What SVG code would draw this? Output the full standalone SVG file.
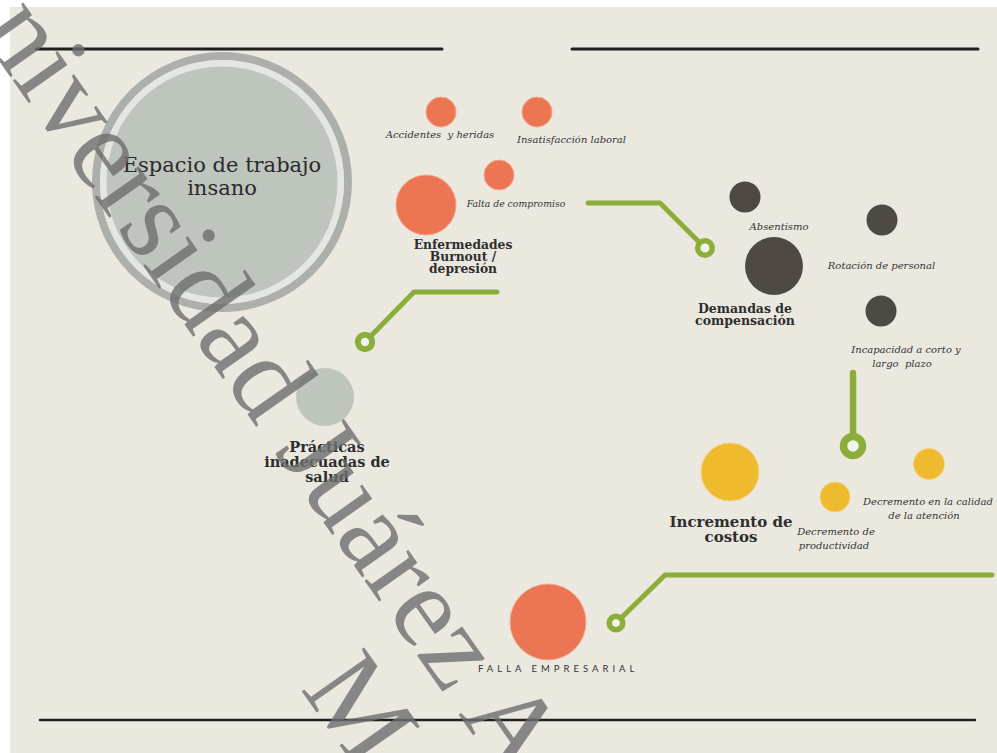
<svg xmlns="http://www.w3.org/2000/svg" width="997" height="753" viewBox="0 0 997 753">
<defs>
<style>
.rule{stroke:#1f1f1d;stroke-width:3;stroke-linecap:round}
.conn{fill:none;stroke:#8bae3a;stroke-width:5;stroke-linecap:round;stroke-linejoin:round}
.ring{fill:#f3f3ee;stroke:#8bae3a}
.or{fill:#ec7554;stroke:#f2a88c;stroke-width:1}
.dk{fill:#4e4944}
.ye{fill:#eebb2f;stroke:#f3d27f;stroke-width:1}
.gr{fill:#bec5bd}
.it{font-family:"DejaVu Serif",serif;font-style:italic;font-size:10px;fill:#333;text-anchor:middle}
.bd{font-family:"DejaVu Serif",serif;font-weight:bold;fill:#2e2e2e;text-anchor:middle}
.wm{font-family:"Liberation Serif",serif;font-size:116.5px;fill:#6e6e6e;opacity:0.8}
</style>
</defs>
<rect x="0" y="0" width="997" height="753" fill="#ffffff"/>
<rect x="10" y="7" width="987" height="746" fill="#ebe8e0"/>
<line class="rule" x1="36" y1="49" x2="442" y2="49"/>
<line class="rule" x1="572" y1="49" x2="978" y2="49"/>
<line class="rule" x1="40" y1="720" x2="975" y2="720" style="stroke-width:2.5"/>

<g id="connectors">
<polyline class="conn" points="497,292 414,292 365,342"/>
<circle class="ring" cx="365" cy="342" r="7.2" stroke-width="6"/>
<polyline class="conn" points="588,203 660,203 705,248"/>
<circle class="ring" cx="705" cy="248" r="7.3" stroke-width="5.5"/>
<polyline class="conn" points="853,373 853,446" style="stroke-width:6.5"/>
<circle class="ring" cx="853" cy="446" r="9.5" stroke-width="7.5"/>
<polyline class="conn" points="616,623 665,575 992,575"/>
<circle class="ring" cx="616" cy="623" r="6.7" stroke-width="5.7"/>
</g>

<g id="espacio">
<circle cx="222" cy="182" r="126" fill="none" stroke="#adb0aa" stroke-width="8"/>
<circle cx="222" cy="182" r="122" fill="#e4e6e0"/>
<circle cx="222" cy="182" r="115.5" fill="#bdc5bd"/>
<text x="222" y="172" style="font-family:'DejaVu Serif',serif;font-size:21px;fill:#2b2b2b;text-anchor:middle">Espacio de trabajo</text>
<text x="222" y="195" style="font-family:'DejaVu Serif',serif;font-size:21px;fill:#2b2b2b;text-anchor:middle">insano</text>
</g>

<g id="accidentes">
<circle class="or" cx="441" cy="112" r="15"/>
<text class="it" x="440" y="138" xml:space="preserve">Accidentes  y heridas</text>
</g>
<g id="insatisfaccion">
<circle class="or" cx="537" cy="112" r="15"/>
<text class="it" x="571.5" y="143">Insatisfacción laboral</text>
</g>
<g id="falta">
<circle class="or" cx="499" cy="175" r="15"/>
<text class="it" x="516" y="207" style="font-size:9.3px">Falta de compromiso</text>
</g>
<g id="enfermedades">
<circle class="or" cx="426" cy="205" r="30"/>
<text class="bd" x="463" y="249" style="font-size:12.3px">Enfermedades</text>
<text class="bd" x="463" y="261" style="font-size:12.3px">Burnout /</text>
<text class="bd" x="463" y="273" style="font-size:12.3px">depresión</text>
</g>

<g id="practicas">
<circle class="gr" cx="325" cy="397" r="29"/>
<text class="bd" x="327" y="452" style="font-size:14.5px">Prácticas</text>
<text class="bd" x="327" y="467" style="font-size:14.5px">inadecuadas de</text>
<text class="bd" x="327" y="482" style="font-size:14.5px">salud</text>
</g>

<g id="absentismo">
<circle class="dk" cx="745" cy="197" r="15.5"/>
<text class="it" x="779" y="230">Absentismo</text>
</g>
<g id="rotacion">
<circle class="dk" cx="882" cy="220" r="15.5"/>
<text class="it" x="881.5" y="269">Rotación de personal</text>
</g>
<g id="incapacidad">
<circle class="dk" cx="881" cy="311" r="15.5"/>
<text class="it" x="906" y="353">Incapacidad a corto y</text>
<text class="it" x="902" y="367" xml:space="preserve">largo  plazo</text>
</g>
<g id="demandas">
<circle class="dk" cx="774" cy="266" r="29"/>
<text class="bd" x="745" y="313" style="font-size:12.5px">Demandas de</text>
<text class="bd" x="745" y="325" style="font-size:12.5px">compensación</text>
</g>

<g id="incremento">
<circle class="ye" cx="730" cy="472" r="29"/>
<text class="bd" x="731" y="527" style="font-size:15px">Incremento de</text>
<text class="bd" x="731" y="542" style="font-size:15px">costos</text>
</g>
<g id="productividad">
<circle class="ye" cx="835" cy="497" r="15"/>
<text class="it" x="836" y="535">Decremento de</text>
<text class="it" x="834" y="549">productividad</text>
</g>
<g id="calidad">
<circle class="ye" cx="929" cy="464" r="15.5"/>
<text class="it" x="928" y="505">Decremento en la calidad</text>
<text class="it" x="924" y="519">de la atención</text>
</g>

<g id="falla">
<circle class="or" cx="548" cy="622" r="38"/>
<text x="478" y="672" style="font-family:Lato,sans-serif;font-size:9.5px;letter-spacing:4px;fill:#333">FALLA EMPRESARIAL</text>
</g>

<g id="watermark" transform="translate(-70.3,-37.9) rotate(54.9)">
<text class="wm" x="0" y="0">Universidad Juárez Autónoma de Tabasco</text>
<text class="wm" x="807" y="115">México</text>
</g>
</svg>
